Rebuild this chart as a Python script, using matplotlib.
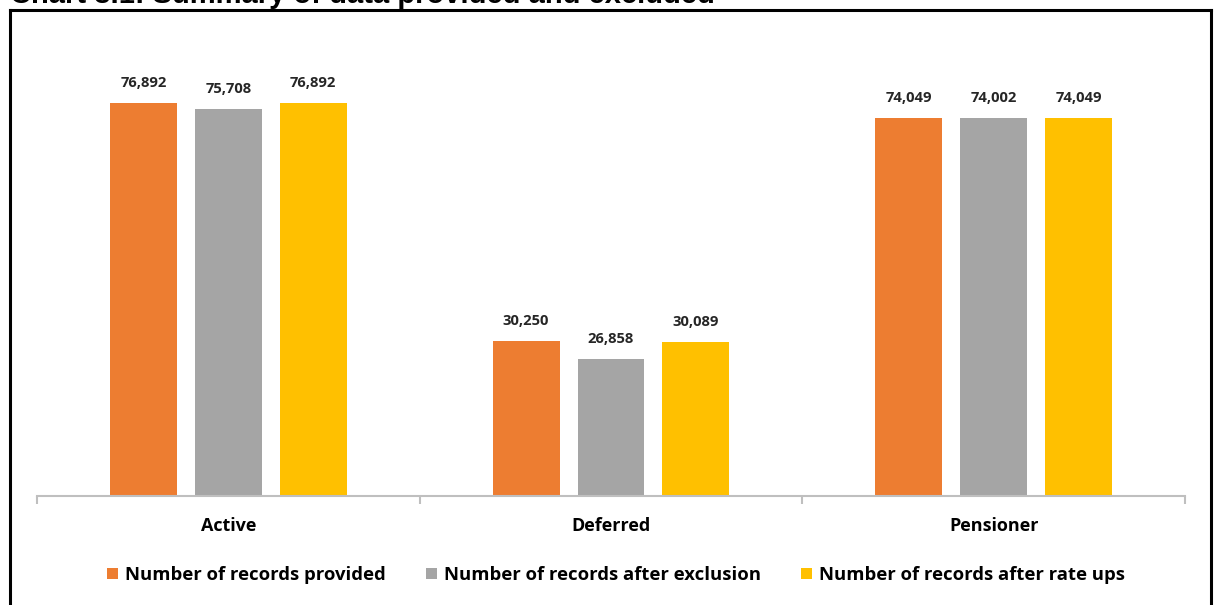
import matplotlib
matplotlib.use("Agg")
import matplotlib.pyplot as plt
from matplotlib.lines import Line2D
from matplotlib.patches import Patch
import numpy as np

categories = ["Active", "Deferred", "Pensioner"]
series_names = ["Number of records provided",
                "Number of records after exclusion",
                "Number of records after rate ups"]
provided = [76892, 30250, 74049]
after_exclusion = [75708, 26858, 74002]
after_rate_ups = [76892, 30089, 74049]
title = "Chart 3.1: Summary of data provided and excluded"

colors = ["#ED7D31", "#A5A5A5", "#FFC000"]
plt.rcParams['font.family'] = ['Open Sans', 'DejaVu Sans']

fig = plt.figure(figsize=(12.15, 6.05), dpi=100)
ax = fig.add_axes([37/1215, 1-496/605, (1185-37)/1215, 460/605])

x = np.arange(len(categories))
width = 0.175
offset = 0.222
all_series = [provided, after_exclusion, after_rate_ups]
for i, (vals, col, name) in enumerate(zip(all_series, colors, series_names)):
    bars = ax.bar(x + (i-1)*offset, vals, width, color=col, label=name, zorder=2)
    for b, v in zip(bars, vals):
        ax.annotate(f"{v:,}", (b.get_x()+b.get_width()/2, v), xytext=(0, 14.4),
                    textcoords="offset points", ha="center", va="center",
                    fontsize=10.6, fontweight="bold", color="#262626")

ax.set_xlim(-0.5, len(categories)-0.5)
ax.set_ylim(0, 90000)
ax.set_yticks([])
for s in ["top", "right", "left"]:
    ax.spines[s].set_visible(False)
ax.spines["bottom"].set_color("#BFBFBF")
ax.spines["bottom"].set_linewidth(1.5)
ax.set_xticks(np.arange(len(categories)+1)-0.5)
ax.set_xticklabels([])
ax.tick_params(axis="x", length=6, width=1.5, color="#BFBFBF")
for xi, c in zip(x, categories):
    ax.text(xi, -0.065, c, transform=ax.get_xaxis_transform(), ha="center", va="center",
            fontsize=13, fontweight="bold", color="#000000")

handles = [Patch(facecolor=c, edgecolor="none") for c in colors]
leg = fig.legend(handles, series_names, loc="center", bbox_to_anchor=(616/1215, 1-575/605),
                 ncol=3, frameon=False, handlelength=0.6, handleheight=0.6,
                 handletextpad=0.35, columnspacing=2.2,
                 prop={"size": 13.3, "weight": "bold"})

# outer frame
fig.add_artist(Line2D([10/1215, 10/1215], [0, 1-9.5/605], color="black", lw=2.2))
fig.add_artist(Line2D([1211/1215, 1211/1215], [0, 1-9.5/605], color="black", lw=2.2))
fig.add_artist(Line2D([10/1215, 1211/1215], [1-9.5/605, 1-9.5/605], color="black", lw=2.2))
fig.text(10/1215, 1-3/605, title, ha="left", va="baseline", fontsize=21,
         fontweight="bold", family=["Liberation Sans", "DejaVu Sans"])

fig.savefig("out.png", dpi=100)
